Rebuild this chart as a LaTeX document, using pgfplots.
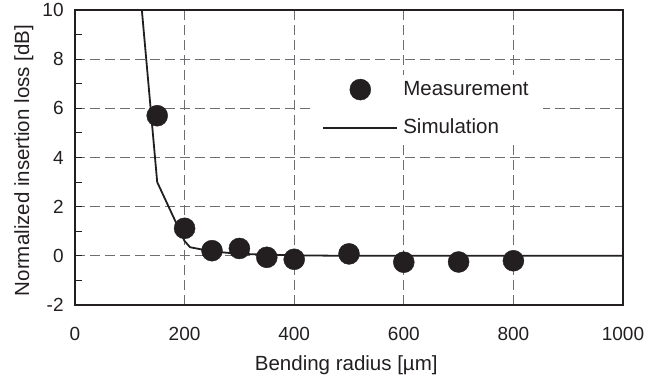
\documentclass[border=0pt]{standalone}
\usepackage{pgfplots}
\pgfplotsset{compat=1.18}
\usepackage{fontspec}
\setmainfont{Liberation Sans}
\definecolor{ink}{HTML}{231F20}
\definecolor{gridc}{HTML}{6D6E71}
\begin{document}
\fontsize{18.5}{22}\selectfont
\begin{tikzpicture}
\useasboundingbox (-75pt,-71pt) rectangle (574pt,305pt);
\begin{axis}[
  at={(0pt,0pt)}, anchor=south west,
  scale only axis,
  width=548pt, height=295pt,
  xmin=0, xmax=1000, ymin=-2, ymax=10,
  xtick={0,200,400,600,800,1000},
  xticklabels={0,200,400,600,800,1000},
  ytick={-2,0,2,4,6,8,10},
  yticklabels={-2,0,2,4,6,8,10},
  minor ytick={-1,1,3,5,7,9},
  tick pos=left,
  tick align=inside,
  x tick style={draw=none},
  y tick style={ink, line width=1pt},
  major tick length=7pt, minor tick length=7pt,
  xmajorgrids, ymajorgrids,
  major grid style={gridc, line width=0.9pt, dash pattern=on 10pt off 5pt},
  axis line style={ink, line width=1.3pt},
  every tick label/.append style={font=\fontsize{19}{22}\selectfont, text=ink},
  xticklabel style={yshift=-16pt},
  yticklabel style={xshift=-5pt},
  xlabel={Bending radius [µm]},
  ylabel={Normalized insertion loss [dB]},
  label style={font=\fontsize{20.5}{24}\selectfont, text=ink},
  xlabel style={at={(axis description cs:0.495,0)}, anchor=base, yshift=-65pt},
  ylabel style={at={(axis description cs:-0.0839,0.49)}, anchor=base, rotate=0},
  /pgf/number format/assume math mode=true,
  clip=true,
  legend image code/.code={\draw[mark repeat=2,mark phase=2,#1] plot coordinates {(0pt,0pt) (37pt,0pt) (74pt,0pt)};},
  legend style={at={(0.429,0.780)}, anchor=north west, draw=none, fill=white,
    font=\fontsize{20.5}{24}\selectfont, text=ink,
    inner xsep=12pt, inner ysep=4pt, row sep=17pt,
    /tikz/every odd column/.append style={column sep=3pt},
    cells={anchor=west}},
  legend cell align=left,
]
\addplot[only marks, mark=*, mark size=10.5pt, mark options={fill=ink, draw=ink}]
  coordinates {(150,5.70) (200,1.12) (250,0.21) (300,0.30) (350,-0.06) (400,-0.14) (500,0.08) (600,-0.26) (700,-0.25) (800,-0.20)};
\addlegendentry{Measurement}
\addplot[ink, line width=1.8pt, no marks,
  legend image code/.code={\draw[ink, line width=2pt] (0pt,0pt) -- (74pt,0pt);}]
  coordinates {(120,10.5) (150,3.0) (200,0.6) (210,0.35) (250,0.18) (300,0.08) (400,0.02) (500,0.0) (1000,0.0)};
\addlegendentry{Simulation}
\end{axis}
\end{tikzpicture}
\end{document}
